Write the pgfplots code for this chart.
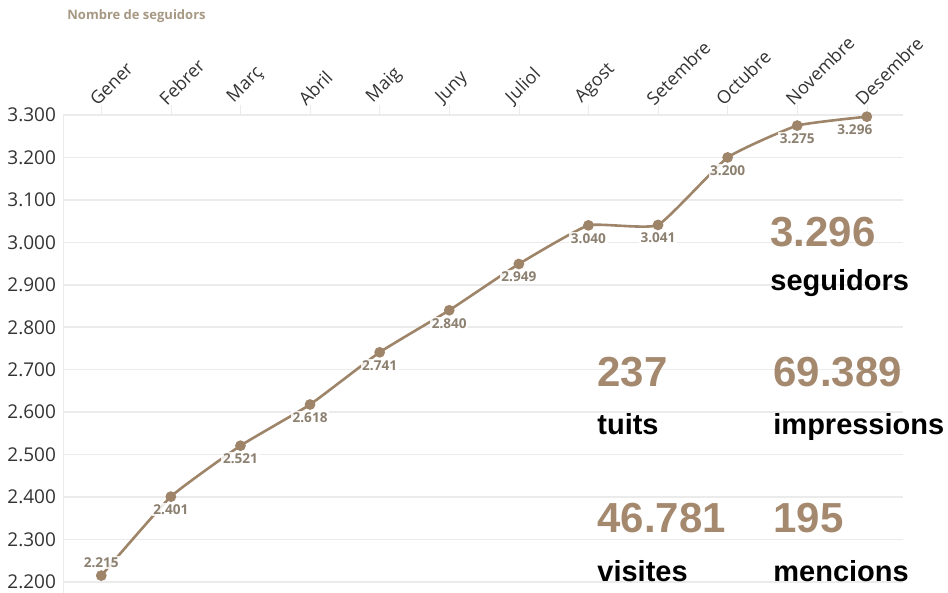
\documentclass[border=0pt]{standalone}
\usepackage{pgfplots}
\pgfplotsset{compat=1.18}
\usepackage{fontspec}
\setmainfont{Open Sans}
\newfontfamily\statfont{Liberation Sans}
\definecolor{linec}{HTML}{9E8468}
\definecolor{statc}{HTML}{A4896F}
\definecolor{labc}{HTML}{8C8070}
\definecolor{titc}{HTML}{A69883}
\definecolor{gridc}{HTML}{EBEBEB}
\definecolor{tickc}{HTML}{333333}
\begin{document}
\begin{tikzpicture}
\begin{axis}[
  scale only axis, width=420pt, height=239pt,
  xmin=-0.55, xmax=11.52, ymin=2174, ymax=3300,
  axis x line*=top, axis y line*=left,
  x axis line style={draw=gridc},
  y axis line style={draw=gridc},
  xtick={0,...,11},
  xticklabels={Gener,Febrer,Març,Abril,Maig,Juny,Juliol,Agost,Setembre,Octubre,Novembre,Desembre},
  xticklabel pos=upper,
  xticklabel style={rotate=45, anchor=south west, font=\fontsize{9}{10}\selectfont, text=tickc, inner sep=0.5pt, xshift=-2.5pt},
  tick align=outside,
  major tick length=5pt,
  x tick style={draw=gridc},
  ytick={2200,2300,...,3300},
  y tick style={draw=none},
  ymajorgrids, grid style={draw=gridc, line width=0.8pt},
  yticklabel style={font=\fontsize{9.5}{10}\selectfont, text=tickc, xshift=5pt},
  /pgf/number format/.cd, 1000 sep={.}, assume math mode=true,
  /pgfplots/.cd,
  clip=false,
]
\addplot[linec, line width=1.3pt, smooth, tension=0.25, mark=*, mark size=2pt, mark options={fill=linec, draw=linec}]
  coordinates {(0,2215)(1,2401)(2,2521)(3,2618)(4,2741)(5,2840)(6,2949)(7,3040)(8,3041)(9,3200)(10,3275)(11,3296)};
\addplot[draw=none, mark=none, nodes near coords, point meta=y,
  every node near coord/.style={anchor=north, yshift=-3pt, font=\bfseries\fontsize{6.8}{7}\selectfont, text=labc, fill=white, fill opacity=0.85, text opacity=1, inner sep=0.8pt}]
  coordinates {(1,2401)(2,2521)(3,2618)(4,2741)(5,2840)(6,2949)(7,3040)(8,3041)(9,3200)(10,3275)};
\addplot[draw=none, mark=none, nodes near coords, point meta=y,
  every node near coord/.style={anchor=north, yshift=-3pt, xshift=-6pt, font=\bfseries\fontsize{6.8}{7}\selectfont, text=labc, fill=white, fill opacity=0.85, text opacity=1, inner sep=0.8pt}]
  coordinates {(11,3296)};
\addplot[draw=none, mark=none, nodes near coords, point meta=y,
  every node near coord/.style={anchor=south, yshift=3pt, font=\bfseries\fontsize{6.8}{7}\selectfont, text=labc, fill=white, fill opacity=0.85, text opacity=1, inner sep=0.8pt}]
  coordinates {(0,2215)};
\end{axis}
\node[anchor=west, inner sep=0, text=titc, font=\bfseries\fontsize{6.5}{7}\selectfont] at (2pt,288.5pt) {Nombre de seguidors};
\begin{scope}[every node/.style={anchor=base west, inner sep=0}]
\node[text=statc, font=\statfont\bfseries\fontsize{21}{22}\selectfont] at (353.5pt,173pt) {3.296};
\node[text=black, font=\statfont\bfseries\fontsize{14.5}{15}\selectfont] at (353.5pt,151pt) {seguidors};
\node[text=statc, font=\statfont\bfseries\fontsize{21}{22}\selectfont] at (267pt,103pt) {237};
\node[text=statc, font=\statfont\bfseries\fontsize{21}{22}\selectfont] at (355pt,103pt) {69.389};
\node[text=black, font=\statfont\bfseries\fontsize{14.5}{15}\selectfont] at (267pt,79pt) {tuits};
\node[text=black, font=\statfont\bfseries\fontsize{14.5}{15}\selectfont] at (355pt,79pt) {impressions};
\node[text=statc, font=\statfont\bfseries\fontsize{21}{22}\selectfont] at (267pt,30pt) {46.781};
\node[text=statc, font=\statfont\bfseries\fontsize{21}{22}\selectfont] at (355pt,30pt) {195};
\node[text=black, font=\statfont\bfseries\fontsize{14.5}{15}\selectfont] at (267pt,5.5pt) {visites};
\node[text=black, font=\statfont\bfseries\fontsize{14.5}{15}\selectfont] at (355pt,5.5pt) {mencions};
\end{scope}
\pgfresetboundingbox
\path[use as bounding box] (-31.5pt,0pt) rectangle (442.5pt,296.5pt);
\end{tikzpicture}
\end{document}
